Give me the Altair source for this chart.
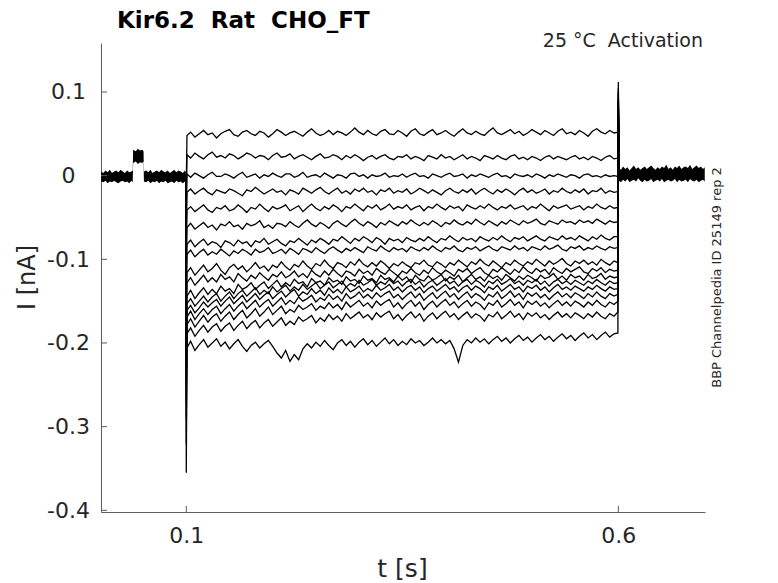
import altair as alt
import pandas as pd

# ---------------- data ----------------
# pre-pulse baseline band (s, pA): upper / lower edge of the noisy band
pre_t = [0.0015, 0.004, 0.0065, 0.009, 0.0115, 0.014, 0.0165, 0.019, 0.0215, 0.024,
         0.0265, 0.029, 0.0315, 0.034, 0.0365, 0.0380, 0.0385, 0.0415, 0.044, 0.0465,
         0.049, 0.0505, 0.051, 0.0535, 0.056, 0.0585, 0.061, 0.0635, 0.066, 0.0685,
         0.071, 0.0735, 0.076, 0.0785, 0.081, 0.0835, 0.086, 0.0885, 0.091, 0.0935,
         0.096, 0.0985, 0.0995]
pre_hi = [5, 3, 6, 4, 7, 3, 5, 6, 4, 7, 5, 3, 6, 4, 5, 6, 31, 29, 32, 30,
          31, 29, 5, 6, 4, 7, 3, 5, 6, 4, 7, 5, 4, 6, 3, 5, 7, 4, 6, 5, 3, 6, 4]
pre_lo = [-7, -8, -6, -9, -7, -8, -6, -8, -9, -7, -6, -8, -7, -9, -6, -8, 15, 17, 14, 16,
          15, 17, -7, -8, -6, -9, -7, -8, -6, -9, -7, -8, -6, -9, -8, -7, -9, -6, -8, -7, -9, -7, -6]

# post-pulse baseline band (s, pA)
post_t = [0.6008, 0.603, 0.6055, 0.608, 0.6105, 0.613, 0.6155, 0.618, 0.6205, 0.623,
          0.6255, 0.628, 0.6305, 0.633, 0.6355, 0.638, 0.6405, 0.643, 0.6455, 0.648,
          0.6505, 0.653, 0.6555, 0.658, 0.6605, 0.663, 0.6655, 0.668, 0.6705, 0.673,
          0.6755, 0.678, 0.6805, 0.683, 0.6855, 0.688, 0.6905, 0.693, 0.6955, 0.698, 0.7]
post_hi = [9, 7, 11, 8, 10, 6, 9, 12, 8, 10, 7, 9, 11, 8, 10, 12, 9, 7, 10, 8,
           11, 9, 13, 8, 10, 7, 11, 9, 12, 8, 10, 11, 9, 13, 8, 10, 12, 9, 11, 8, 10]
post_lo = [-6, -8, -5, -7, -4, -8, -6, -5, -7, -3, -6, -8, -5, -7, -6, -4, -8, -6, -5, -7,
           -4, -8, -6, -5, -7, -6, -4, -8, -5, -7, -6, -5, -8, -4, -6, -7, -5, -8, -6, -5, -7]

# sampling times of the step phase (s)
step_t = [0.1008] + [round(0.1 + 0.005 * k, 4) for k in range(1, 100)] + [0.5995]

# currents during the step (pA), one list per sweep
trace_01 = [48, 52, 46, 50, 54, 49, 51, 45, 50, 53, 55, 49, 47, 52, 54, 50, 48, 53, 51, 46,
            50, 55, 52, 48, 51, 53, 50, 47, 52, 56, 51, 48, 50, 54, 49, 53, 51, 48, 52, 57,
            52, 49, 54, 50, 48, 53, 55, 50, 49, 54, 51, 47, 53, 56, 50, 48, 52, 55, 49, 51,
            54, 50, 47, 52, 56, 51, 49, 53, 50, 48, 53, 57, 51, 49, 52, 55, 50, 53, 48, 51,
            55, 52, 49, 54, 51, 48, 53, 56, 50, 52, 49, 54, 51, 47, 53, 56, 52, 50, 54, 51, 52]
trace_02 = [25, 21, 27, 23, 20, 25, 28, 22, 24, 21, 26, 24, 20, 23, 27, 25, 21, 24, 23, 19,
            24, 27, 22, 23, 26, 20, 23, 25, 22, 19, 23, 26, 21, 22, 25, 23, 19, 24, 21, 25,
            22, 18, 22, 24, 20, 23, 25, 21, 19, 23, 22, 25, 20, 23, 21, 18, 24, 22, 20, 25,
            21, 23, 19, 22, 25, 20, 23, 21, 18, 24, 22, 20, 24, 21, 19, 23, 25, 20, 22, 19,
            23, 21, 18, 22, 24, 20, 23, 21, 19, 22, 24, 20, 22, 19, 23, 21, 18, 22, 24, 20, 21]
trace_03 = [2, -2, 3, 0, -3, 1, 4, -1, -1, 2, 0, -3, 1, 4, -2, 0, 2, -3, 1, -1,
            3, 0, -2, 2, 2, -2, 0, 4, -2, 0, 1, -2, 3, 0, -3, 1, 0, -3, 2, 3,
            -1, 1, -3, 1, -1, 0, 3, -2, 0, -1, 2, -2, 1, 3, -1, 0, -3, 2, 0, -2,
            1, 3, -1, 0, 2, -3, 1, -1, 2, 0, -2, 1, 3, -1, 0, -3, 2, 0, -1, 1,
            -2, 2, 0, -3, 1, -1, 2, 0, -2, 1, 0, -3, 1, 2, -1, 0, -2, 1, -1, 0, -1]
trace_04 = [-20, -16, -22, -18, -15, -20, -23, -17, -19, -21, -16, -18, -21, -24, -17, -19, -14, -18, -22, -19,
            -16, -20, -18, -23, -17, -19, -22, -15, -18, -21, -17, -14, -19, -22, -18, -15, -21, -18, -22, -16,
            -19, -15, -20, -18, -23, -17, -19, -15, -21, -18, -20, -16, -22, -19, -15, -18, -21, -17, -20, -23,
            -18, -15, -19, -21, -17, -20, -16, -22, -18, -15, -19, -22, -17, -20, -16, -19, -23, -18, -15, -20,
            -17, -21, -19, -16, -22, -18, -20, -15, -19, -21, -17, -20, -16, -22, -18, -19, -15, -21, -18, -20, -19]
trace_05 = [-41, -37, -43, -39, -35, -41, -44, -38, -40, -36, -42, -40, -35, -39, -44, -38, -40, -34, -39, -43,
            -37, -40, -38, -35, -42, -39, -36, -43, -38, -34, -39, -42, -37, -40, -35, -38, -43, -37, -39, -34,
            -38, -42, -36, -39, -35, -41, -38, -34, -40, -37, -39, -35, -41, -38, -36, -42, -37, -39, -34, -38,
            -41, -36, -39, -37, -42, -35, -38, -40, -36, -39, -34, -38, -41, -37, -39, -35, -40, -38, -36, -41,
            -37, -39, -34, -38, -42, -36, -39, -37, -35, -40, -38, -36, -41, -37, -39, -34, -38, -40, -36, -39, -38]
trace_06 = [-62, -57, -64, -60, -56, -62, -59, -65, -58, -60, -55, -61, -59, -64, -57, -60, -58, -54, -62, -59,
            -63, -57, -58, -61, -55, -59, -62, -57, -53, -58, -61, -56, -59, -63, -57, -54, -58, -61, -56, -52,
            -57, -60, -55, -58, -62, -56, -59, -54, -57, -60, -55, -58, -53, -57, -60, -56, -59, -54, -57, -61,
            -56, -58, -53, -57, -59, -55, -58, -52, -56, -59, -54, -57, -60, -55, -58, -53, -56, -59, -54, -57,
            -55, -52, -57, -59, -54, -56, -58, -53, -56, -55, -58, -53, -56, -54, -57, -52, -55, -58, -54, -56, -55]
trace_07 = [-82, -77, -85, -80, -76, -83, -79, -81, -86, -78, -80, -84, -77, -81, -79, -85, -78, -80, -75, -82,
            -79, -76, -81, -84, -78, -80, -75, -79, -83, -77, -80, -75, -78, -82, -76, -78, -73, -77, -81, -75,
            -78, -73, -76, -80, -74, -77, -82, -75, -78, -76, -80, -74, -77, -79, -75, -78, -73, -77, -80, -75,
            -77, -72, -76, -79, -74, -77, -75, -79, -73, -76, -78, -74, -77, -72, -76, -79, -74, -76, -73, -78,
            -75, -72, -76, -78, -73, -75, -77, -72, -76, -74, -77, -72, -75, -78, -73, -76, -71, -75, -77, -73, -73]
trace_08 = [-94, -89, -97, -92, -88, -95, -91, -94, -88, -92, -96, -90, -93, -88, -91, -95, -88, -92, -90, -86,
            -93, -91, -88, -93, -87, -90, -94, -87, -89, -92, -86, -90, -93, -88, -85, -89, -92, -87, -90, -86,
            -89, -92, -85, -88, -90, -84, -88, -91, -86, -89, -87, -91, -85, -88, -90, -86, -89, -84, -88, -91,
            -86, -88, -84, -89, -91, -86, -88, -85, -90, -87, -84, -88, -90, -85, -87, -89, -84, -88, -86, -90,
            -85, -87, -89, -84, -88, -86, -83, -88, -90, -85, -87, -84, -89, -86, -88, -84, -87, -89, -85, -87, -86]
trace_09 = [-116, -110, -119, -113, -107, -115, -111, -105, -113, -118, -110, -106, -112, -108, -115, -110, -104, -111, -108, -114,
            -107, -110, -103, -109, -113, -106, -109, -102, -108, -112, -105, -108, -101, -107, -111, -104, -106, -110, -103, -107,
            -100, -106, -109, -104, -108, -102, -106, -111, -105, -108, -103, -107, -110, -104, -106, -101, -107, -109, -103, -106,
            -110, -104, -107, -101, -105, -109, -103, -106, -100, -105, -108, -102, -106, -110, -104, -107, -101, -105, -108, -103,
            -106, -100, -104, -108, -102, -106, -103, -99, -105, -108, -102, -105, -101, -106, -103, -107, -100, -104, -107, -102, -104]
trace_10 = [-128, -122, -131, -125, -119, -127, -122, -127, -118, -124, -121, -127, -117, -122, -126, -119, -123, -116, -121, -125,
            -118, -121, -115, -122, -119, -114, -121, -117, -122, -113, -118, -121, -114, -119, -112, -117, -121, -114, -116, -120,
            -112, -117, -114, -119, -111, -115, -118, -112, -116, -120, -114, -117, -111, -116, -119, -113, -117, -110, -115, -118,
            -113, -116, -120, -112, -115, -111, -117, -113, -110, -116, -119, -112, -115, -110, -114, -118, -112, -116, -109, -114,
            -117, -111, -115, -112, -118, -110, -114, -117, -111, -115, -112, -109, -115, -117, -111, -114, -110, -116, -112, -114, -113]
trace_11 = [-144, -137, -147, -140, -134, -142, -136, -141, -132, -138, -135, -141, -130, -136, -133, -128, -136, -131, -127, -135,
            -130, -125, -133, -128, -132, -124, -129, -127, -133, -123, -128, -126, -131, -122, -127, -125, -130, -121, -126, -124,
            -129, -120, -125, -123, -128, -119, -124, -122, -127, -120, -125, -121, -128, -119, -124, -126, -120, -125, -122, -118,
            -126, -121, -124, -119, -127, -122, -118, -124, -121, -126, -119, -123, -120, -125, -118, -122, -126, -120, -124, -119,
            -122, -126, -119, -123, -121, -117, -124, -120, -125, -118, -122, -120, -125, -118, -123, -121, -117, -124, -120, -122, -121]
trace_12 = [-153, -147, -156, -150, -144, -151, -145, -141, -150, -144, -139, -147, -141, -137, -144, -139, -134, -142, -137, -141,
            -133, -139, -135, -131, -138, -133, -137, -130, -136, -132, -128, -135, -131, -127, -134, -130, -126, -133, -129, -132,
            -125, -131, -128, -124, -131, -127, -130, -124, -129, -126, -132, -127, -124, -130, -126, -133, -128, -125, -131, -127,
            -123, -129, -126, -132, -127, -124, -130, -125, -128, -133, -126, -129, -124, -130, -127, -123, -129, -126, -131, -125,
            -128, -124, -130, -126, -132, -127, -124, -129, -126, -130, -125, -128, -131, -126, -129, -124, -128, -131, -126, -129, -128]
trace_13 = [-161, -155, -164, -158, -151, -157, -152, -148, -156, -150, -145, -153, -148, -143, -151, -146, -141, -148, -143, -139,
            -147, -142, -138, -145, -140, -136, -144, -139, -142, -135, -141, -137, -143, -134, -140, -136, -141, -133, -139, -136,
            -132, -139, -135, -138, -131, -137, -134, -130, -137, -133, -139, -134, -131, -137, -133, -140, -135, -132, -138, -134,
            -130, -136, -133, -139, -134, -131, -137, -132, -135, -140, -133, -136, -131, -138, -134, -130, -136, -133, -139, -132,
            -135, -131, -137, -133, -139, -134, -130, -136, -133, -137, -132, -135, -138, -133, -136, -131, -135, -138, -133, -136, -135]
trace_14 = [-169, -162, -172, -165, -159, -166, -160, -156, -165, -159, -154, -162, -156, -151, -159, -154, -149, -157, -152, -148,
            -156, -151, -146, -154, -149, -153, -145, -150, -147, -143, -151, -146, -149, -142, -148, -144, -150, -141, -147, -144,
            -139, -146, -142, -147, -140, -145, -141, -138, -146, -142, -148, -143, -139, -146, -141, -149, -144, -140, -147, -142,
            -138, -145, -141, -148, -143, -139, -146, -141, -144, -149, -142, -145, -139, -147, -143, -138, -145, -141, -148, -140,
            -144, -140, -146, -142, -148, -143, -139, -145, -141, -146, -140, -143, -147, -141, -145, -139, -144, -147, -141, -144, -142]
trace_15 = [-178, -171, -181, -174, -167, -175, -169, -165, -174, -168, -163, -172, -166, -161, -170, -165, -159, -168, -163, -157,
            -166, -161, -156, -165, -160, -163, -155, -160, -157, -153, -161, -156, -159, -152, -158, -154, -160, -151, -157, -153,
            -149, -156, -152, -158, -150, -155, -151, -148, -157, -152, -159, -153, -149, -156, -151, -160, -154, -150, -157, -152,
            -148, -155, -151, -158, -153, -149, -156, -151, -154, -160, -152, -155, -149, -157, -153, -148, -155, -151, -158, -150,
            -154, -150, -156, -152, -158, -153, -149, -155, -151, -156, -150, -153, -157, -151, -155, -149, -154, -157, -151, -154, -150]
trace_16 = [-189, -182, -192, -185, -179, -187, -181, -177, -186, -180, -176, -185, -179, -174, -183, -177, -173, -182, -176, -172,
            -180, -175, -170, -179, -174, -178, -169, -174, -171, -167, -176, -170, -174, -166, -172, -168, -174, -165, -171, -167,
            -163, -170, -166, -172, -164, -169, -165, -162, -171, -166, -173, -167, -163, -170, -165, -174, -168, -164, -171, -166,
            -162, -169, -165, -172, -167, -163, -170, -165, -168, -174, -166, -169, -163, -171, -167, -162, -169, -165, -172, -164,
            -168, -164, -170, -166, -172, -167, -163, -169, -165, -170, -164, -167, -171, -165, -169, -163, -168, -171, -165, -168, -163]
trace_17 = [-206, -198, -209, -202, -196, -205, -200, -195, -204, -199, -207, -201, -196, -204, -210, -203, -199, -206, -201, -197,
            -204, -212, -218, -209, -222, -214, -220, -207, -201, -206, -199, -204, -197, -203, -208, -200, -196, -203, -198, -205,
            -199, -195, -202, -197, -204, -199, -194, -201, -196, -203, -198, -202, -195, -200, -197, -203, -199, -194, -200, -196,
            -201, -197, -207, -223, -203, -196, -200, -194, -199, -195, -201, -196, -192, -198, -194, -200, -195, -191, -197, -193,
            -199, -194, -190, -196, -192, -198, -193, -189, -195, -191, -197, -192, -188, -194, -190, -196, -191, -187, -193, -189, -188]

# capacitive transients at step onset (t = 0.1 s) and offset (t = 0.6 s), pA
onset_spike = [-10, -30, -50, -70, -90, -110, -130, -150, -170, -190, -210, -230, -250, -270, -290, -320, -355]
offset_spike = [55, 60, 65, 70, 72, 75, 78, 80, 83, 86, 89, 92, 95, 98, 101, 105, 112]

# axis ticks
x_ticks = [0.1, 0.6]
y_ticks = [0.1, 0.0, -0.1, -0.2, -0.3, -0.4]

# ---------------- tables ----------------
traces = [trace_01, trace_02, trace_03, trace_04, trace_05, trace_06, trace_07, trace_08, trace_09,
          trace_10, trace_11, trace_12, trace_13, trace_14, trace_15, trace_16, trace_17]
rows = []
for k, vals in enumerate(traces):
    name = f"sweep{k + 1:02d}"
    rows.append((name, 0.0995, 0.0))
    rows.append((name, 0.1, onset_spike[k] / 1000))
    for t, v in zip(step_t, vals):
        rows.append((name, t, v / 1000))
    rows.append((name, 0.6, offset_spike[k] / 1000))
    rows.append((name, 0.6008, 0.0))
df_tr = pd.DataFrame(rows, columns=["sweep", "t", "i"])

df_band = pd.concat([
    pd.DataFrame({"seg": "pre", "t": pre_t, "hi": [v / 1000 for v in pre_hi], "lo": [v / 1000 for v in pre_lo]}),
    pd.DataFrame({"seg": "post", "t": post_t, "hi": [v / 1000 for v in post_hi], "lo": [v / 1000 for v in post_lo]}),
])

# ---------------- chart ----------------
FONT = "DejaVu Sans"
AX = "#5c5c5c"
LAB = "#262626"
xs = alt.Scale(domain=[0.0013, 0.7003], nice=False, zero=False)
ys = alt.Scale(domain=[-0.402, 0.1585], nice=False, zero=False)
x_axis = alt.Axis(values=x_ticks, title=None, grid=False, ticks=False, tickSize=0,
                  labelFontSize=22, labelFont=FONT, labelColor=LAB, labelPadding=13,
                  domainColor=AX, domainWidth=1,
                  labelExpr="format(datum.value, '.1~f')")
y_axis = alt.Axis(values=y_ticks, title=None, grid=False, ticks=False, tickSize=0,
                  labelFontSize=22, labelFont=FONT, labelColor=LAB, labelPadding=33,
                  labelAlign="center", labelBaseline="middle",
                  domainColor=AX, domainWidth=1,
                  labelExpr="replace(format(datum.value, '.1~f'), '\u2212', '-')")

band = alt.Chart(df_band).mark_area(color="black", opacity=1, interpolate="linear").encode(
    x=alt.X("t:Q", scale=xs, axis=x_axis),
    y=alt.Y("hi:Q", scale=ys, axis=y_axis),
    y2="lo:Q",
    detail="seg:N",
)

lines = alt.Chart(df_tr).mark_line(color="black", strokeWidth=1.3).encode(
    x=alt.X("t:Q", scale=xs, axis=x_axis),
    y=alt.Y("i:Q", scale=ys, axis=y_axis),
    detail="sweep:N",
    order="t:Q",
)

ytick_rules = alt.Chart(pd.DataFrame({"i": y_ticks})).mark_rule(color=AX, strokeWidth=1).encode(
    y=alt.Y("i:Q", scale=ys, axis=y_axis), x=alt.value(0), x2=alt.value(6))
xtick_rules = alt.Chart(pd.DataFrame({"t": x_ticks})).mark_rule(color=AX, strokeWidth=1).encode(
    x=alt.X("t:Q", scale=xs, axis=x_axis), y=alt.value(463), y2=alt.value(469))


def label(text, x, y, size, angle=0, align="center", weight="normal"):
    m = alt.Chart(pd.DataFrame({"s": [text]})).mark_text(
        font=FONT, fontSize=size, fontWeight=weight, color="black" if weight == "bold" else LAB,
        align=align, baseline="alphabetic", angle=angle)
    return m.encode(text="s:N", x=alt.value(x), y=alt.value(y))


title = label("Kir6.2\u00a0 Rat\u00a0 CHO_FT", 16, -15.5, 23, align="left", weight="bold")
subtitle = label("25 \u00b0C\u00a0 Activation", 602, 4.3, 19, align="right")
note = label("BBP Channelpedia ID 25149 rep 2", 620, 234.5, 13, angle=270)
ylab = label("I [nA]", -66, 234.5, 24, angle=270)
xlab = label("t [s]", 301.5, 534, 25)

chart = alt.layer(band, lines, ytick_rules, xtick_rules, title, subtitle, note, ylab, xlab).properties(
    width=604, height=469,
    autosize=alt.AutoSizeParams(type="none"),
    padding={"left": 93, "top": 35, "right": 65, "bottom": 71},
).configure_view(stroke=None)

chart.save("out.html", embed_options={"renderer": "svg", "actions": False})
